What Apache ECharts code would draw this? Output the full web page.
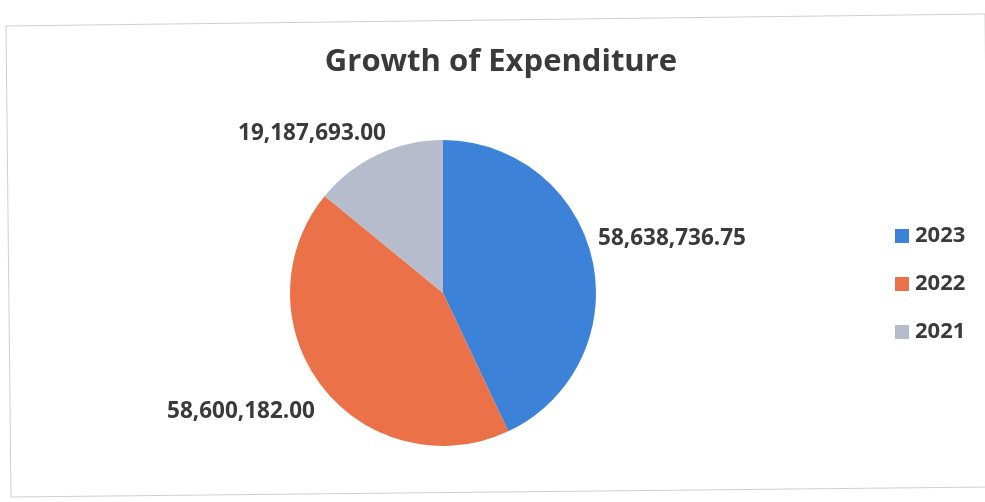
<!DOCTYPE html>
<html>
<head>
<meta charset="utf-8">
<script src="https://cdn.jsdelivr.net/npm/echarts@6/dist/echarts.min.js"></script>
<style>
  html, body { margin: 0; padding: 0; background: #ffffff; }
  #chart { width: 985px; height: 502px; }
</style>
</head>
<body>
<div id="chart"></div>
<script>
// Yearly expenditure totals
const years = ['2023', '2022', '2021'];
const expenditure = [58638736.75, 58600182.00, 19187693.00];
const sliceColors = ['#3d82d9', '#eb7149', '#b6bccb'];

// Where each value label sits (centre of the text), in page pixels
const labelAnchors = [[672, 239], [241, 412], [312, 134]];

const fmt = v => v.toLocaleString('en-US', { minimumFractionDigits: 2, maximumFractionDigits: 2 });

const chart = echarts.init(document.getElementById('chart'), null, { renderer: 'canvas' });

chart.setOption({
  animation: false,
  backgroundColor: '#ffffff',
  title: {
    text: 'Growth of Expenditure',
    left: 496,
    top: 42,
    textAlign: 'center',
    textStyle: {
      fontFamily: 'Open Sans',
      fontWeight: 'bold',
      fontSize: 31,
      color: '#3a3a3a'
    }
  },
  legend: {
    orient: 'vertical',
    left: 890,
    top: 220,
    itemWidth: 14,
    itemHeight: 14,
    itemGap: 26,
    icon: 'rect',
    data: years,
    textStyle: {
      fontFamily: 'Open Sans',
      fontWeight: 'bold',
      fontSize: 22,
      lineHeight: 22,
      color: '#3a3a3a',
      padding: [0, 0, 0, 1]
    }
  },
  graphic: [{
    type: 'polygon',
    shape: { points: [[6, 26], [985, 14], [990, 487], [11, 497]] },
    style: { fill: 'none', stroke: '#cfcfcf', lineWidth: 1 },
    silent: true
  }],
  series: [{
    type: 'pie',
    center: [443, 293],
    radius: [0, 153],
    startAngle: 90,
    clockwise: true,
    avoidLabelOverlap: false,
    itemStyle: { borderWidth: 0 },
    label: {
      show: true,
      position: 'outside',
      formatter: p => fmt(p.value),
      fontFamily: 'Open Sans',
      fontWeight: 'bold',
      fontSize: 22.5,
      color: '#3a3a3a'
    },
    labelLine: { show: false },
    labelLayout: p => ({
      x: labelAnchors[p.dataIndex][0],
      y: labelAnchors[p.dataIndex][1],
      align: 'center',
      verticalAlign: 'middle'
    }),
    data: years.map((y, i) => ({
      name: y,
      value: expenditure[i],
      itemStyle: { color: sliceColors[i] }
    }))
  }]
});
</script>
</body>
</html>
